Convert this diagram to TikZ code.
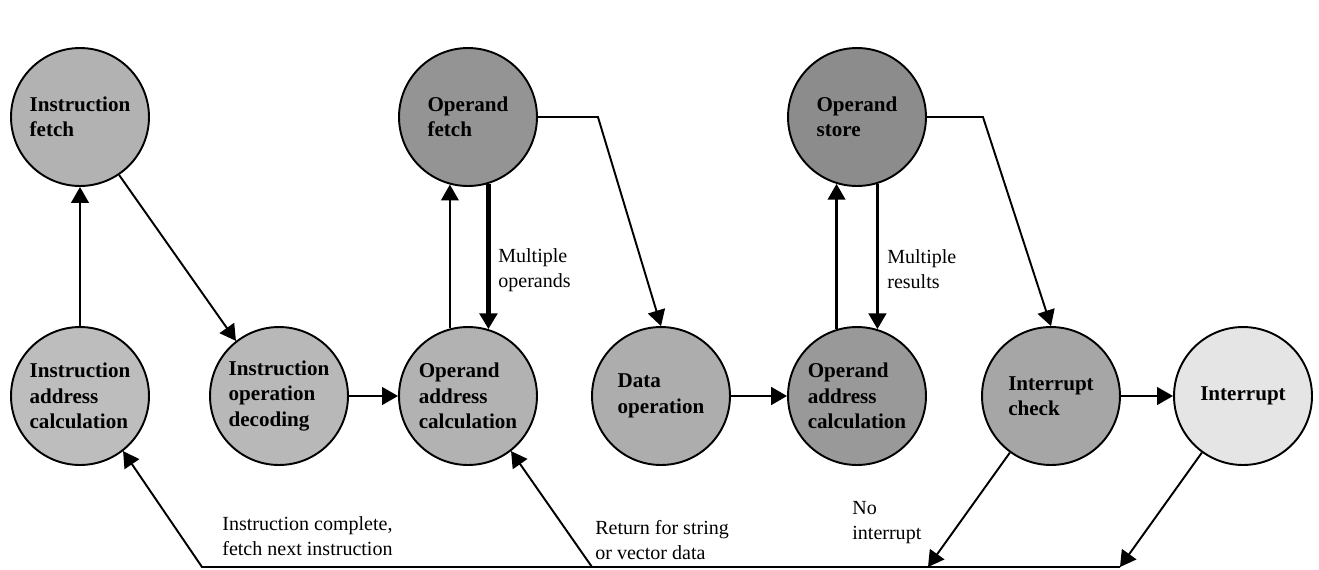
\documentclass[tikz,border=0pt]{standalone}
\usepackage{fontspec}
\setmainfont{Liberation Serif}
\usetikzlibrary{arrows.meta}
\begin{document}
\begin{tikzpicture}[x=0.02cm,y=-0.02cm,
        state/.style={circle,draw=black,line width=1.1pt,minimum size=2.76cm,inner sep=0pt,
          align=left,font=\fontsize{12}{14.5}\selectfont\bfseries},
        flow/.style={-{Triangle[length=9pt,width=10pt]},line width=1.1pt},
        note/.style={anchor=north west,inner sep=0pt,align=left,font=\fontsize{11.4}{14.5}\selectfont}]
        \useasboundingbox (0,0) rectangle (1319,569);
        % top row
        \node[state,fill=black!30] (ifetch) at (80,117) {Instruction\\fetch};
        \node[state,fill=black!42] (ofetch) at (468,117) {Operand\\fetch};
        \node[state,fill=black!45] (ostore) at (857,117) {Operand\\store};
        % bottom row
        \node[state,fill=black!26] (iaddr) at (80,396) {Instruction\\address\\calculation};
        \node[state,fill=black!28] (idecode) at (279,396) {Instruction\\operation\\decoding};
        \node[state,fill=black!30] (oaddr) at (468,396) {Operand\\address\\calculation};
        \node[state,fill=black!32] (dataop) at (661,396) {Data\\operation};
        \node[state,fill=black!40] (oaddrb) at (857,396) {Operand\\address\\calculation};
        \node[state,fill=black!35] (intcheck) at (1051,396) {Interrupt\\check};
        \node[state,fill=black!10] (intr) at (1243,396) {Interrupt};
        % return line
        \coordinate (backL) at (202,567);
        \coordinate (backM) at (592,567);
        \coordinate (backN) at (928,567);
        \coordinate (backR) at (1120,567);
        \draw[flow] (iaddr) -- (ifetch);
        \draw[flow] (ifetch.-56) -- (idecode.128);
        \draw[flow] (idecode) -- (oaddr);
        \draw[flow] (oaddr.105) -- (ofetch.255);
        \draw[flow,line width=2.4pt] (ofetch.-73) -- (oaddr.73);
        \draw[flow] (ofetch.east) -- ++(60,0) -- (dataop.north);
        \draw[flow,line width=1.5pt] (dataop) -- (oaddrb);
        \draw[flow,line width=1.3pt] (oaddrb.107) -- (ostore.253);
        \draw[flow,line width=1.8pt] (ostore.-73) -- (oaddrb.73);
        \draw[flow] (ostore.east) -- ++(56,0) -- (intcheck.north);
        \draw[flow] (intcheck) -- (intr);
        \draw[flow] (intcheck.234) -- (backN);
        \draw[flow] (intr.234) -- (backR);
        \draw[flow] (backR) -- (backL) -- (iaddr.-52);
        \draw[flow] (backM) -- (oaddr.-52);
        % labels
        \node[note] (lblops) at (498,248) {Multiple\\operands};
        \node[note] (lblres) at (887,249) {Multiple\\results};
        \node[note] (lbldone) at (222,516) {Instruction complete,\\fetch next instruction};
        \node[note] (lblret) at (595,520) {Return for string\\or vector data};
        \node[note] (lblnoint) at (852,501) {No\\interrupt};
\end{tikzpicture}
\end{document}
